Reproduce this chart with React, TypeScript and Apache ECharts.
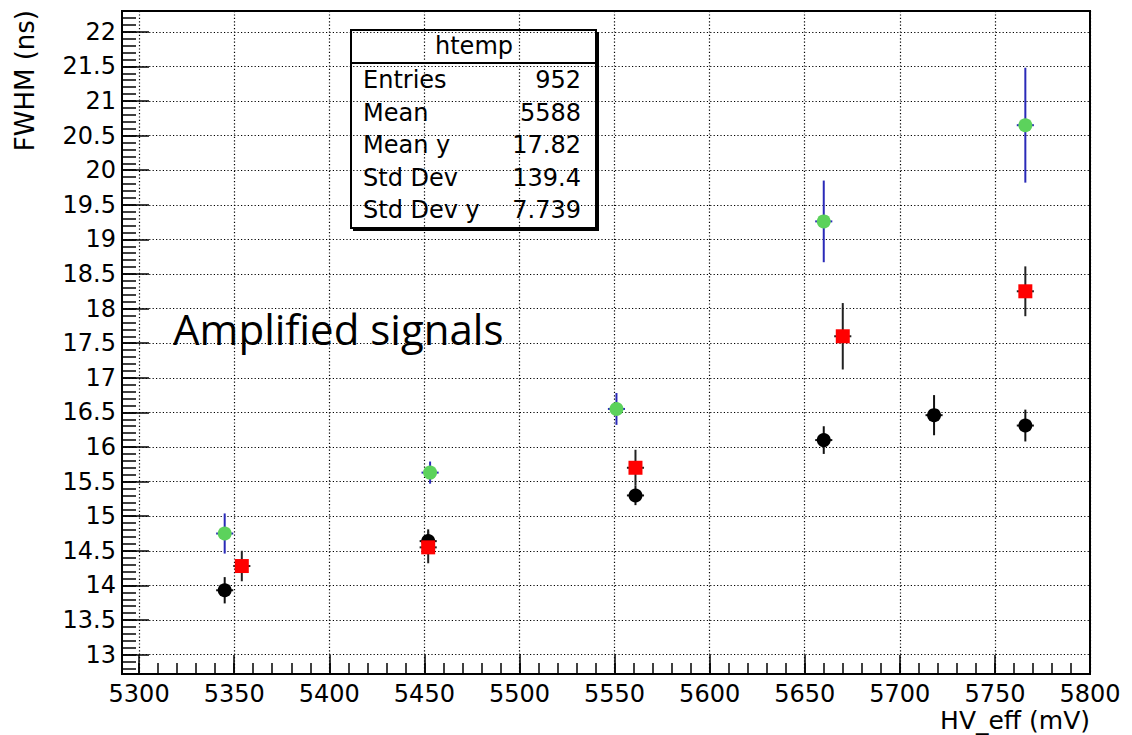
import React, { useEffect, useRef } from "react";
import * as echarts from "echarts";

// ---- data ----
const xBlack = [5345, 5452, 5561, 5660, 5718, 5766];
const yBlack = [13.93, 14.64, 15.3, 16.1, 16.46, 16.31];
const eBlack = [0.19, 0.17, 0.14, 0.2, 0.29, 0.23];

const xRed = [5354, 5452, 5561, 5670, 5766];
const yRed = [14.28, 14.55, 15.7, 17.6, 18.25];
const eRed = [0.22, 0.23, 0.26, 0.48, 0.36];

const xGreen = [5345, 5453, 5551, 5660, 5766];
const yGreen = [14.75, 15.63, 16.55, 19.26, 20.65];
const eGreen = [0.29, 0.16, 0.23, 0.59, 0.83];

const xErrHalf = 4.5;

const xMajorTicks = [5300, 5350, 5400, 5450, 5500, 5550, 5600, 5650, 5700, 5750, 5800];
const yMajorTicks = [13, 13.5, 14, 14.5, 15, 15.5, 16, 16.5, 17, 17.5, 18, 18.5, 19, 19.5, 20, 20.5, 21, 21.5, 22];

const statTitle = "htemp";
const statLabels = ["Entries", "Mean", "Mean y", "Std Dev", "Std Dev y"];
const statValues = ["952", "5588", "17.82", "139.4", "7.739"];

const xAxisTitle = "HV_eff (mV)";
const yAxisTitle = "FWHM (ns)";
const annotation = "Amplified signals";

// minor tick positions (axis decoration)
const xMinorTicks: number[] = [];
for (let v = 5300; v <= 5800; v += 10) xMinorTicks.push(v);
const yMinorTicks: number[] = [];
for (let k = 128; k <= 222; k++) yMinorTicks.push(Math.round(k) / 10);

const X_MIN = 5291;
const X_MAX = 5800;
const Y_MIN = 12.72;
const Y_MAX = 22.3;

const FONT = "DejaVu Sans";

function errSeries(name: string, xs: number[], ys: number[], es: number[], color: string) {
  return {
    type: "custom",
    name: name + "-err",
    silent: true,
    data: xs.map((v, i) => [v, ys[i], es[i], xErrHalf]),
    encode: { x: 0, y: 1 },
    renderItem: (_p: any, api: any) => {
      const x = api.value(0);
      const y = api.value(1);
      const e = api.value(2);
      const ex = api.value(3);
      const t = api.coord([x, y + e]);
      const b = api.coord([x, y - e]);
      const l = api.coord([x - ex, y]);
      const r = api.coord([x + ex, y]);
      return {
        type: "group",
        children: [
          { type: "line", shape: { x1: t[0], y1: t[1], x2: b[0], y2: b[1] }, style: { stroke: color, lineWidth: 2 } },
          { type: "line", shape: { x1: l[0], y1: l[1], x2: r[0], y2: r[1] }, style: { stroke: color, lineWidth: 2 } },
        ],
      };
    },
  };
}

function markerSeries(name: string, xs: number[], ys: number[], color: string, symbol: string, size: number) {
  return {
    type: "scatter",
    name,
    silent: true,
    symbol,
    symbolSize: size,
    itemStyle: { color, opacity: 1 },
    data: xs.map((v, i) => [v, ys[i]]),
  };
}

const dotted = { color: "#000", width: 1.2, type: [1.2, 2.2] as any };

export default function App() {
  const ref = useRef<HTMLDivElement>(null);
  useEffect(() => {
    if (!ref.current) return;
    const chart = echarts.init(ref.current, null, { renderer: "svg" });
    const statRows: any[] = [];
    statLabels.forEach((lab, i) => {
      statRows.push({
        type: "text",
        x: 363,
        y: 80 + i * 32.5,
        style: { text: lab, font: `24px "${FONT}"`, fill: "#000", verticalAlign: "middle" },
      });
      statRows.push({
        type: "text",
        x: 581,
        y: 80 + i * 32.5,
        style: { text: statValues[i], font: `24px "${FONT}"`, fill: "#000", align: "right", verticalAlign: "middle" },
      });
    });
    chart.setOption({
      animation: false,
      backgroundColor: "#fff",
      grid: {
        left: 122,
        right: 42,
        top: 11,
        bottom: 61,
        show: true,
        borderColor: "#000",
        borderWidth: 2,
        backgroundColor: "transparent",
        outerBoundsMode: "none",
      },
      xAxis: [
        {
          type: "value",
          min: X_MIN,
          max: X_MAX,
          position: "bottom",
          axisLine: { show: true, onZero: false, lineStyle: { color: "#000", width: 2 } },
          axisTick: { show: true, inside: true, length: 19, customValues: xMajorTicks, lineStyle: { color: "#000", width: 1.5 } },
          axisLabel: {
            customValues: xMajorTicks,
            formatter: (v: number) => String(v),
            color: "#000",
            fontFamily: FONT,
            fontSize: 24,
            margin: 8,
            showMinLabel: true,
            showMaxLabel: true,
          },
          splitLine: { show: true, lineStyle: dotted },
        },
        {
          type: "value",
          min: X_MIN,
          max: X_MAX,
          position: "bottom",
          axisLine: { show: false },
          axisTick: { show: true, inside: true, length: 11, customValues: xMinorTicks, lineStyle: { color: "#000", width: 1.5 } },
          axisLabel: { show: false },
          splitLine: { show: false },
        },
      ],
      yAxis: [
        {
          type: "value",
          min: Y_MIN,
          max: Y_MAX,
          position: "left",
          axisLine: { show: true, onZero: false, lineStyle: { color: "#000", width: 2 } },
          axisTick: { show: true, inside: true, length: 27, customValues: yMajorTicks, lineStyle: { color: "#000", width: 1.5 } },
          axisLabel: {
            customValues: yMajorTicks,
            formatter: (v: number) => String(v),
            color: "#000",
            fontFamily: FONT,
            fontSize: 24,
            margin: 6,
            showMinLabel: true,
            showMaxLabel: true,
          },
          splitLine: { show: true, lineStyle: dotted },
        },
        {
          type: "value",
          min: Y_MIN,
          max: Y_MAX,
          position: "left",
          axisLine: { show: false },
          axisTick: { show: true, inside: true, length: 14, customValues: yMinorTicks, lineStyle: { color: "#000", width: 1.5 } },
          axisLabel: { show: false },
          splitLine: { show: false },
        },
      ],
      series: [
        errSeries("black", xBlack, yBlack, eBlack, "#111"),
        markerSeries("black", xBlack, yBlack, "#000", "circle", 14),
        errSeries("red", xRed, yRed, eRed, "#222"),
        markerSeries("red", xRed, yRed, "#ff0000", "rect", 14),
        errSeries("green", xGreen, yGreen, eGreen, "#2a2ab8"),
        markerSeries("green", xGreen, yGreen, "#5cd25c", "circle", 14),
      ],
      graphic: [
        {
          type: "text",
          x: 25,
          y: 10,
          rotation: Math.PI / 2,
          style: { text: yAxisTitle, font: `26px "${FONT}"`, fill: "#000", align: "right", verticalAlign: "middle" },
        },
        {
          type: "text",
          x: 1090,
          y: 720,
          style: { text: xAxisTitle, font: `25px "${FONT}"`, fill: "#000", align: "right", verticalAlign: "middle" },
        },
        {
          type: "text",
          x: 173,
          y: 328,
          style: { text: annotation, font: `42px "Open Sans"`, fill: "#000", verticalAlign: "middle" },
        },
        // stat box shadow + box
        { type: "rect", shape: { x: 353, y: 32, width: 246, height: 199 }, style: { fill: "#000" } },
        { type: "rect", shape: { x: 351, y: 30, width: 245, height: 198 }, style: { fill: "#fff", stroke: "#000", lineWidth: 2 } },
        { type: "line", shape: { x1: 351, y1: 63, x2: 596, y2: 63 }, style: { stroke: "#000", lineWidth: 2 } },
        {
          type: "text",
          x: 474,
          y: 46,
          style: { text: statTitle, font: `24px "${FONT}"`, fill: "#000", align: "center", verticalAlign: "middle" },
        },
        ...statRows,
      ],
    });
    return () => chart.dispose();
  }, []);
  return <div ref={ref} style={{ position: "fixed", left: 0, top: 0, width: 1132, height: 735 }} />;
}
